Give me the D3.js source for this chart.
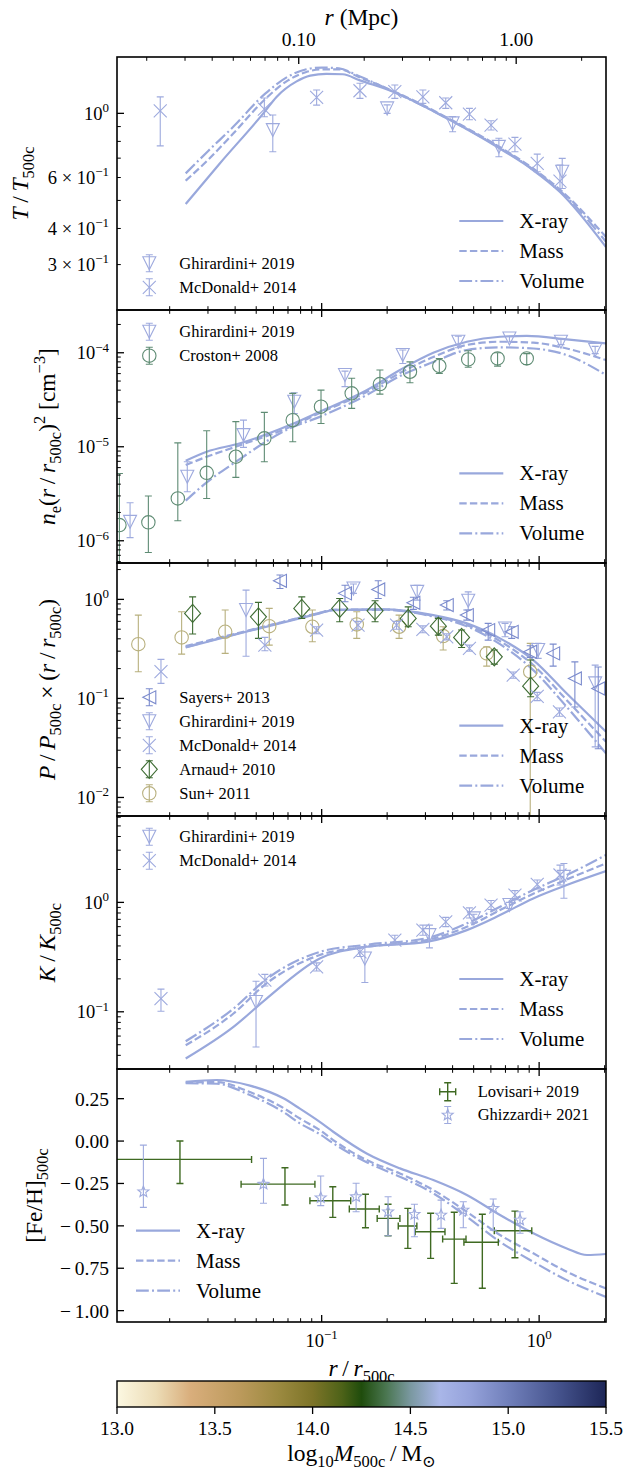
<!DOCTYPE html>
<html>
<head>
<meta charset="utf-8">
<script src="https://cdn.jsdelivr.net/npm/d3@7"></script>
<style>
  body { margin: 0; background: #fff; }
  svg { font-family: "Liberation Serif", "DejaVu Serif", serif; }
</style>
</head>
<body>
<div id="chart"></div>
<script>
// ---- data ----
const xDomain = [0.01145, 2.03];
const mpcPerR500 = 1.275;

// panel 1: temperature
const tXray = [[0.0237,0.486],[0.034,0.671],[0.0545,1.01],[0.062,1.14],[0.0767,1.29],[0.0886,1.35],[0.105,1.37],[0.125,1.365],[0.15,1.30],[0.213,1.188],[0.389,0.948],[0.64,0.766],[0.937,0.637],[1.247,0.535],[2.03,0.345]];
const tMass = [[0.0237,0.585],[0.03,0.69],[0.0393,0.853],[0.055,1.12],[0.07,1.3],[0.085,1.39],[0.1,1.42],[0.12,1.42],[0.15,1.33],[0.213,1.195],[0.389,0.955],[0.64,0.775],[0.937,0.645],[1.247,0.545],[2.03,0.374]];
const tVolume = [[0.0237,0.62],[0.03,0.74],[0.0393,0.9],[0.055,1.17],[0.07,1.34],[0.085,1.42],[0.1,1.44],[0.12,1.43],[0.15,1.34],[0.213,1.19],[0.389,0.95],[0.64,0.77],[0.937,0.64],[1.247,0.54],[2.03,0.36]];
const ghirardiniT = [[0.0596,0.875,0.737,0.987],[0.200,1.04,1.0,1.07],[0.40,0.923,0.864,0.974],[0.653,0.766,0.708,0.82],[1.277,0.628,0.55,0.699]];
const mcdonaldT = [[0.0181,1.02,0.772,1.14],[0.0545,1.035,0.973,1.13],[0.0948,1.136,1.068,1.204],[0.150,1.197,1.127,1.27],[0.217,1.188,1.127,1.253],[0.292,1.141,1.083,1.204],[0.372,1.088,1.04,1.13],[0.478,0.994,0.95,1.04],[0.601,0.911,0.876,0.943],[0.774,0.783,0.737,0.826],[0.98,0.671,0.628,0.723],[1.247,0.583,0.55,0.663]];

// panel 2: density
const nXray = [[0.0237,7.1e-6],[0.0296,8.85e-6],[0.0422,1.09e-5],[0.0714,1.70e-5],[0.098,2.36e-5],[0.161,4.0e-5],[0.229,6.55e-5],[0.326,1.0e-4],[0.465,1.31e-4],[0.661,1.48e-4],[0.877,1.51e-4],[1.34,1.39e-4],[2.03,1.26e-4]];
const nMass = [[0.0237,6.38e-6],[0.0296,7.83e-6],[0.0422,1.04e-5],[0.0714,1.62e-5],[0.098,2.29e-5],[0.161,3.82e-5],[0.229,6.08e-5],[0.326,9.0e-5],[0.465,1.21e-4],[0.661,1.31e-4],[0.94,1.28e-4],[1.34,1.11e-4],[2.03,8.36e-5]];
const nVolume = [[0.0237,2.67e-6],[0.0296,4.18e-6],[0.0393,6.65e-6],[0.0714,1.57e-5],[0.098,2.08e-5],[0.161,3.55e-5],[0.229,5.65e-5],[0.326,7.96e-5],[0.465,1.07e-4],[0.661,1.14e-4],[0.94,1.11e-4],[1.34,9.45e-5],[2.03,5.8e-5]];
const ghirardiniN = [[0.01315,1.59e-6,1.08e-6,2.54e-6],[0.0241,4.8e-6,3.32e-6,6.92e-6],[0.0437,1.33e-5,9.86e-6,1.92e-5],[0.0748,3.01e-5,2.26e-5,3.75e-5],[0.128,5.8e-5,4.36e-5,6.38e-5],[0.236,9.45e-5,7.7e-5,1.07e-4],[0.425,1.31e-4,1.13e-4,1.5e-4],[0.73,1.42e-4,1.3e-4,1.5e-4],[1.26,1.31e-4,1.22e-4,1.4e-4],[1.81,1.07e-4,9.8e-5,1.17e-4]];
const crostonN = [[0.01175,1.47e-6,4e-7,5.2e-6],[0.01596,1.57e-6,7.5e-7,2.99e-6],[0.0218,2.82e-6,1.63e-6,1.1e-5],[0.0296,5.28e-6,2.82e-6,1.48e-5],[0.0403,7.83e-6,4.72e-6,1.85e-5],[0.0545,1.23e-5,6.92e-6,2.32e-5],[0.0736,1.92e-5,1.13e-5,3.7e-5],[0.0993,2.67e-5,1.77e-5,4.0e-5],[0.1374,3.7e-5,2.56e-5,5.35e-5],[0.1853,4.64e-5,3.63e-5,6.55e-5],[0.2547,6.28e-5,4.8e-5,8.0e-5],[0.3475,7.23e-5,6.04e-5,8.7e-5],[0.472,8.5e-5,7.0e-5,1.05e-4],[0.644,8.7e-5,7.2e-5,1.0e-4],[0.877,8.7e-5,7.5e-5,9.8e-5]];

// panel 3: pressure
const pXray = [[0.0237,0.327],[0.0468,0.482],[0.098,0.722],[0.113,0.78],[0.192,0.793],[0.326,0.694],[0.465,0.573],[0.661,0.404],[0.94,0.244],[1.34,0.112],[2.03,0.046]];
const pMass = [[0.0237,0.337],[0.0468,0.49],[0.098,0.73],[0.113,0.785],[0.192,0.79],[0.326,0.68],[0.465,0.55],[0.661,0.379],[0.94,0.217],[1.34,0.096],[2.03,0.0365]];
const pVolume = [[0.0237,0.33],[0.0468,0.485],[0.098,0.73],[0.113,0.785],[0.192,0.785],[0.326,0.67],[0.465,0.535],[0.661,0.353],[0.94,0.193],[1.34,0.082],[2.03,0.0278]];
const sayersP = [[0.0643,1.54,1.29,1.76],[0.128,1.15,0.946,1.39],[0.182,1.26,1.02,1.54],[0.264,0.924,0.793,1.05],[0.376,0.876,0.78,0.968],[0.465,0.694,0.618,0.78],[0.583,0.49,0.388,0.573],[0.748,0.471,0.404,0.529],[0.91,0.296,0.26,0.34],[1.16,0.285,0.212,0.353],[1.46,0.159,0.082,0.234],[1.87,0.126,0.031,0.208]];
const ghirardiniP = [[0.0449,0.78,0.267,1.24],[0.14,1.29,1.15,1.43],[0.275,1.19,0.984,1.39],[0.472,0.968,0.78,1.19],[0.697,0.509,0.419,0.573],[0.99,0.308,0.254,0.36],[1.81,0.142,0.0324,0.217]];
const mcdonaldP = [[0.01824,0.186,0.142,0.248],[0.0548,0.345,0.303,0.413],[0.0948,0.49,0.45,0.53],[0.147,0.55,0.5,0.6],[0.221,0.55,0.5,0.6],[0.292,0.497,0.46,0.54],[0.376,0.419,0.39,0.45],[0.478,0.32,0.3,0.345],[0.76,0.172,0.16,0.185],[0.98,0.105,0.095,0.115],[1.24,0.073,0.066,0.08]];
const arnaudP = [[0.0255,0.722,0.447,1.06],[0.0512,0.667,0.404,0.933],[0.081,0.811,0.643,1.06],[0.121,0.811,0.594,1.02],[0.176,0.767,0.594,0.968],[0.25,0.643,0.529,0.841],[0.344,0.537,0.436,0.643],[0.44,0.413,0.327,0.49],[0.622,0.263,0.222,0.308],[0.914,0.133,0.104,0.244]];
const sunP = [[0.01435,0.353,0.186,0.694],[0.0227,0.413,0.28,0.75],[0.036,0.471,0.285,0.78],[0.0574,0.537,0.345,0.811],[0.0906,0.529,0.373,0.78],[0.145,0.559,0.404,0.75],[0.227,0.529,0.404,0.694],[0.362,0.426,0.308,0.529],[0.574,0.285,0.212,0.332],[0.91,0.186,0.003,0.36]];

// panel 4: entropy
const kXray = [[0.0237,0.0374],[0.0393,0.0728],[0.0558,0.132],[0.098,0.307],[0.161,0.393],[0.304,0.436],[0.465,0.558],[0.661,0.765],[0.94,1.088],[1.34,1.44],[2.03,1.93]];
const kMass = [[0.0237,0.0495],[0.0393,0.0965],[0.0558,0.182],[0.098,0.33],[0.161,0.393],[0.304,0.452],[0.465,0.598],[0.661,0.85],[0.94,1.2],[1.34,1.62],[2.03,2.27]];
const kVolume = [[0.0237,0.0538],[0.0393,0.107],[0.0558,0.199],[0.098,0.353],[0.161,0.41],[0.304,0.471],[0.465,0.643],[0.661,0.911],[0.94,1.3],[1.34,1.78],[2.03,2.71]];
const ghirardiniK = [[0.0499,0.123,0.0477,0.19],[0.158,0.307,0.185,0.393],[0.313,0.502,0.384,0.62],[0.501,0.714,0.65,0.78],[0.73,0.945,0.88,1.0],[1.3,1.71,1.09,2.27]];
const mcdonaldK = [[0.01824,0.132,0.101,0.161],[0.0548,0.195,0.172,0.22],[0.0948,0.257,0.236,0.28],[0.15,0.353,0.32,0.39],[0.217,0.452,0.41,0.5],[0.292,0.558,0.5,0.62],[0.372,0.665,0.6,0.73],[0.478,0.803,0.72,0.89],[0.601,0.945,0.86,1.04],[0.774,1.166,1.06,1.28],[0.98,1.46,1.33,1.6],[1.247,1.78,1.44,2.19]];

// panel 5: metallicity
const feXray = [[0.0237,0.349],[0.0329,0.36],[0.0468,0.327],[0.0667,0.252],[0.0794,0.191],[0.098,0.113],[0.113,0.055],[0.161,-0.073],[0.229,-0.161],[0.326,-0.23],[0.465,-0.318],[0.661,-0.436],[0.94,-0.544],[1.34,-0.633],[1.66,-0.672],[2.03,-0.666]];
const feMass = [[0.0237,0.345],[0.0329,0.348],[0.0468,0.289],[0.0667,0.195],[0.0794,0.133],[0.098,0.065],[0.113,0.006],[0.161,-0.112],[0.229,-0.191],[0.326,-0.289],[0.465,-0.417],[0.661,-0.554],[0.94,-0.662],[1.34,-0.771],[2.03,-0.869]];
const feVolume = [[0.0237,0.341],[0.0329,0.338],[0.0468,0.271],[0.0667,0.171],[0.0794,0.104],[0.098,0.041],[0.113,-0.013],[0.161,-0.125],[0.229,-0.21],[0.326,-0.308],[0.465,-0.446],[0.661,-0.594],[0.94,-0.712],[1.34,-0.82],[2.03,-0.919]];
// [r, rlo, rhi, fe, felo, fehi]
const lovisariFe = [[0.0223,0.005,0.0476,-0.108,-0.25,0.0],[0.0678,0.0426,0.0931,-0.254,-0.377,-0.157],[0.1125,0.0883,0.136,-0.352,-0.45,-0.269],[0.159,0.134,0.184,-0.401,-0.511,-0.314],[0.202,0.18,0.229,-0.456,-0.558,-0.373],[0.249,0.225,0.274,-0.501,-0.633,-0.397],[0.317,0.269,0.369,-0.535,-0.692,-0.426],[0.407,0.36,0.461,-0.578,-0.839,-0.42],[0.548,0.451,0.649,-0.597,-0.868,-0.432],[0.774,0.622,0.925,-0.529,-0.688,-0.413]];
const ghizzardiFe = [[0.01514,-0.299,-0.391,-0.024],[0.054,-0.254,-0.367,-0.102],[0.099,-0.334,-0.381,-0.206],[0.144,-0.328,-0.417,-0.249],[0.202,-0.417,-0.558,-0.328],[0.267,-0.432,-0.564,-0.373],[0.354,-0.436,-0.515,-0.348],[0.448,-0.407,-0.511,-0.358],[0.615,-0.397,-0.525,-0.342],[0.817,-0.466,-0.544,-0.417]];

const massTicks = [13.0, 13.5, 14.0, 14.5, 15.0, 15.5];
const massDomain = [13.0, 15.5];

// ---- look ----
const W = 626, H = 1478;
const L = 117, R = 606;
const cLine = "#99a8dc", cBlue = "#9eaade", cSayers = "#7b8bcd",
      cCroston = "#5f8c74", cArnaud = "#3e6c33", cSun = "#b8b07e", cLov = "#3f6a22";
const numFont = 19.5, mathFont = 18.5, legFont = 16.5, lineLegFont = 21, labFont = 23.5;
const sp = "\u2009";

const svg = d3.select("#chart").append("svg").attr("width", W).attr("height", H);
svg.append("rect").attr("width", W).attr("height", H).attr("fill", "#fff");
const defs = svg.append("defs");

const x = d3.scaleLog().domain(xDomain).range([L, R]);
const xMpc = d3.scaleLog().domain(xDomain.map(d => d * mpcPerR500)).range([L, R]);

// write text made of pieces: [text, style] with style among i, sub, sup, isub
function rich(t, parts, size) {
  let shift = 0;
  parts.forEach(([txt, st]) => {
    st = st || "";
    let target = 0, fs = size;
    if (st.includes("sub")) { target = size * 0.25; fs = size * 0.7; }
    if (st.includes("sup")) { target = -size * 0.42; fs = size * 0.7; }
    const s = t.append("tspan").text(txt).attr("font-size", fs).attr("dy", target - shift);
    if (st.replace("sub", "").replace("sup", "").includes("i")) s.attr("font-style", "italic");
    shift = target;
  });
  return t;
}

function marker(g, type, cx, cy, color) {
  const s = 6.5;
  let p;
  if (type === "tri_down") p = `M${cx - s},${cy - s}L${cx + s},${cy - s}L${cx},${cy + s}Z`;
  else if (type === "tri_left") p = `M${cx + s},${cy - s}L${cx + s},${cy + s}L${cx - s},${cy}Z`;
  else if (type === "x") p = `M${cx - s},${cy - s}L${cx + s},${cy + s}M${cx - s},${cy + s}L${cx + s},${cy - s}`;
  else if (type === "diamond") p = `M${cx},${cy - 9}L${cx + 8},${cy}L${cx},${cy + 9}L${cx - 8},${cy}Z`;
  else if (type === "star") {
    const pts = d3.range(10).map(i => {
      const a = -Math.PI / 2 + i * Math.PI / 5, r = i % 2 ? 2.5 : 5.8;
      return [cx + r * Math.cos(a), cy + r * Math.sin(a)];
    });
    p = "M" + pts.join("L") + "Z";
  }
  if (type === "circle") {
    g.append("circle").attr("cx", cx).attr("cy", cy).attr("r", 6.7)
      .attr("fill", "none").attr("stroke", color).attr("stroke-width", 1.1);
  } else {
    g.append("path").attr("d", p).attr("fill", "none").attr("stroke", color).attr("stroke-width", 1.1);
  }
}

function errV(g, cx, y1, y2, color, w) {
  g.append("path").attr("d", `M${cx},${y1}L${cx},${y2}M${cx - 3.5},${y1}L${cx + 3.5},${y1}M${cx - 3.5},${y2}L${cx + 3.5},${y2}`)
    .attr("stroke", color).attr("stroke-width", w || 1.1).attr("fill", "none");
}
function errH(g, cy, x1, x2, color, w) {
  g.append("path").attr("d", `M${x1},${cy}L${x2},${cy}M${x1},${cy - 3.5}L${x1},${cy + 3.5}M${x2},${cy - 3.5}L${x2},${cy + 3.5}`)
    .attr("stroke", color).attr("stroke-width", w || 1.1).attr("fill", "none");
}

function logTicks(domain) {
  const out = [];
  for (let e = -8; e <= 2; e++) for (let m = 1; m <= 9; m++) {
    const v = m * Math.pow(10, e);
    if (v >= domain[0] * 0.9999 && v <= domain[1] * 1.0001) out.push({ v, major: m === 1 });
  }
  return out;
}

const lineStyles = [
  { name: "X-ray", dash: null },
  { name: "Mass", dash: "7.4,3.2" },
  { name: "Volume", dash: "12.8,3.2,2,3.2" }
];

const pow10 = e => [["10"], [e, "sup"]];
const panels = [
  { top: 57, log: true, domain: [0.209, 1.566], lines: [tXray, tMass, tVolume],
    sets: [{ d: ghirardiniT, m: "tri_down", c: cBlue, label: "Ghirardini+ 2019" },
           { d: mcdonaldT, m: "x", c: cBlue, label: "McDonald+ 2014" }],
    legendY: 263.3, lineLegY: 221, ylab: { x: 20, parts: [["T", "i"], [sp + "/" + sp], ["T", "i"], ["500c", "sub"]] },
    yLabels: [[1, pow10("0")], [0.6, [["6 × 10"], ["\u22121", "sup"]]], [0.4, [["4 × 10"], ["\u22121", "sup"]]], [0.3, [["3 × 10"], ["\u22121", "sup"]]]] },
  { top: 310, log: true, domain: [5.8e-7, 2.85e-4], lines: [nXray, nMass, nVolume],
    sets: [{ d: ghirardiniN, m: "tri_down", c: cBlue, label: "Ghirardini+ 2019" },
           { d: crostonN, m: "circle", c: cCroston, label: "Croston+ 2008" }],
    legendY: 331.7, lineLegY: 473.3,
    ylab: { x: 47, parts: [["n", "i"], ["e", "sub"], ["("], ["r", "i"], [sp + "/" + sp], ["r", "i"], ["500c", "sub"], [")"], ["2", "sup"], [" [cm"], ["\u22123", "sup"], ["]"]] },
    yLabels: [[1e-4, pow10("\u22124")], [1e-5, pow10("\u22125")], [1e-6, pow10("\u22126")]] },
  { top: 563, log: true, domain: [0.0065, 2.33], lines: [pXray, pMass, pVolume],
    sets: [{ d: sunP, m: "circle", c: cSun, label: "Sun+ 2011" },
           { d: arnaudP, m: "diamond", c: cArnaud, label: "Arnaud+ 2010" },
           { d: mcdonaldP, m: "x", c: cBlue, label: "McDonald+ 2014" },
           { d: ghirardiniP, m: "tri_down", c: cBlue, label: "Ghirardini+ 2019" },
           { d: sayersP, m: "tri_left", c: cSayers, label: "Sayers+ 2013" }],
    legendY: 697.3, legendOrder: [4, 3, 2, 1, 0], lineLegY: 725.7,
    ylab: { x: 47, parts: [["P", "i"], [sp + "/" + sp], ["P", "i"], ["500c", "sub"], [sp + "×" + sp + "("], ["r", "i"], [sp + "/" + sp], ["r", "i"], ["500c", "sub"], [")"]] },
    yLabels: [[1, pow10("0")], [0.1, pow10("\u22121")], [0.01, pow10("\u22122")]] },
  { top: 816, log: true, domain: [0.030, 6.16], lines: [kXray, kMass, kVolume],
    sets: [{ d: ghirardiniK, m: "tri_down", c: cBlue, label: "Ghirardini+ 2019" },
           { d: mcdonaldK, m: "x", c: cBlue, label: "McDonald+ 2014" }],
    legendY: 836.7, lineLegY: 979,
    ylab: { x: 47, parts: [["K", "i"], [sp + "/" + sp], ["K", "i"], ["500c", "sub"]] },
    yLabels: [[1, pow10("0")], [0.1, pow10("\u22121")]] },
  { top: 1069, log: false, domain: [-1.067, 0.425], lines: [feXray, feMass, feVolume],
    sets: [], legendY: 1091.7, lineLegY: 1230.7, lineLegX: 136,
    ylab: { x: 34, parts: [["[Fe/H]"], ["500c", "sub"]] },
    yLabels: [0.25, 0, -0.25, -0.5, -0.75, -1].map(v => [v, [[(v < 0 ? "\u2212" + sp : "") + Math.abs(v).toFixed(2)]]]) }
];
const PH = 253;

panels.forEach((p, i) => {
  const top = p.top, bot = top + PH;
  const y = (p.log ? d3.scaleLog() : d3.scaleLinear()).domain(p.domain).range([bot, top]);
  const clipId = "clip" + i;
  defs.append("clipPath").attr("id", clipId).append("rect").attr("x", L).attr("y", top).attr("width", R - L).attr("height", PH);
  const g = svg.append("g").attr("clip-path", `url(#${clipId})`);

  // model lines
  const line = d3.line().x(d => x(d[0])).y(d => y(d[1])).curve(d3.curveMonotoneX);
  p.lines.forEach((arr, k) => {
    g.append("path").datum(arr).attr("d", line).attr("fill", "none").attr("stroke", cLine)
      .attr("stroke-width", 2.2).attr("stroke-dasharray", lineStyles[k].dash);
  });

  // observations
  p.sets.forEach(s => {
    s.d.forEach(d => {
      errV(g, x(d[0]), y(Math.max(d[2], p.domain[0] * 0.5)), y(d[3]), s.c);
      marker(g, s.m, x(d[0]), y(d[1]), s.c);
    });
  });

  if (i === 4) {
    lovisariFe.forEach(d => {
      errH(g, y(d[3]), x(d[1]), x(d[2]), cLov, 1.4);
      errV(g, x(d[0]), y(d[4]), y(d[5]), cLov, 1.4);
    });
    ghizzardiFe.forEach(d => {
      errV(g, x(d[0]), y(d[2]), y(d[3]), cBlue);
      marker(g, "star", x(d[0]), y(d[1]), cBlue);
    });
  }

  // legends
  const lg = svg.append("g");
  if (i < 4) {
    const order = p.legendOrder || p.sets.map((_, k) => k);
    order.forEach((k, j) => {
      const s = p.sets[k], ly = p.legendY + j * 24;
      errV(lg, 149.3, ly - 8.5, ly + 8.5, s.c);
      marker(lg, s.m, 149.3, ly, s.c);
      lg.append("text").attr("x", 179.3).attr("y", ly + legFont * 0.33).attr("font-size", legFont).text(s.label);
    });
  } else {
    const items = [["Lovisari+ 2019", "lov"], ["Ghizzardi+ 2021", "star"]];
    items.forEach(([lab, t], j) => {
      const ly = p.legendY + j * 23.3, lx = 447.7;
      if (t === "lov") { errH(lg, ly, lx - 8, lx + 8, cLov, 1.4); errV(lg, lx, ly - 9, ly + 9, cLov, 1.4); }
      else { errV(lg, lx, ly - 8.5, ly + 8.5, cBlue); marker(lg, "star", lx, ly, cBlue); }
      lg.append("text").attr("x", 477.7).attr("y", ly + legFont * 0.33).attr("font-size", legFont).text(lab);
    });
  }
  const llx = p.lineLegX || 459.3;
  lineStyles.forEach((st, k) => {
    const ly = p.lineLegY + k * 30;
    lg.append("line").attr("x1", llx).attr("x2", llx + 44).attr("y1", ly).attr("y2", ly)
      .attr("stroke", cLine).attr("stroke-width", 2.2).attr("stroke-dasharray", st.dash);
    lg.append("text").attr("x", llx + 60).attr("y", ly + lineLegFont * 0.33).attr("font-size", lineLegFont).text(st.name);
  });

  // axes frame and ticks
  const ax = svg.append("g").attr("stroke", "#000").attr("fill", "none");
  ax.append("rect").attr("x", L).attr("y", top).attr("width", R - L).attr("height", PH).attr("stroke-width", 1.6);
  logTicks(xDomain).forEach(t => {
    const len = t.major ? 7 : 3.8, px = x(t.v);
    ax.append("line").attr("x1", px).attr("x2", px).attr("y1", bot).attr("y2", bot - len).attr("stroke-width", t.major ? 1.3 : 1);
    if (i > 0) ax.append("line").attr("x1", px).attr("x2", px).attr("y1", top).attr("y2", top + len).attr("stroke-width", t.major ? 1.3 : 1);
  });
  if (i === 0) {
    logTicks(xMpc.domain()).forEach(t => {
      const len = t.major ? 7 : 3.8, px = xMpc(t.v);
      ax.append("line").attr("x1", px).attr("x2", px).attr("y1", top).attr("y2", top + len).attr("stroke-width", t.major ? 1.3 : 1);
    });
    [0.1, 1].forEach(v => svg.append("text").attr("x", xMpc(v)).attr("y", 46).attr("text-anchor", "middle")
      .attr("font-size", numFont).text(v.toFixed(2)));
    rich(svg.append("text").attr("x", (L + R) / 2).attr("y", 25).attr("text-anchor", "middle"), [["r", "i"], [" (Mpc)"]], labFont);
  }
  const yt = p.log ? logTicks(p.domain) : p.yLabels.map(d => ({ v: d[0], major: true }));
  yt.forEach(t => {
    const len = t.major ? 7 : 3.8, py = y(t.v);
    ax.append("line").attr("x1", L).attr("x2", L + len).attr("y1", py).attr("y2", py).attr("stroke-width", t.major ? 1.3 : 1);
  });
  const yf = p.log ? mathFont : numFont;
  p.yLabels.forEach(([v, parts]) => {
    rich(svg.append("text").attr("x", 109).attr("y", y(v) + yf * 0.36).attr("text-anchor", "end"), parts, yf);
  });
  const cy = top + PH / 2;
  rich(svg.append("text").attr("transform", `translate(${p.ylab.x + 8},${cy}) rotate(-90)`).attr("text-anchor", "middle"), p.ylab.parts, labFont);

  if (i === 4) {
    [[0.1, "\u22121"], [1, "0"]].forEach(([v, e]) => {
      rich(svg.append("text").attr("x", x(v)).attr("y", bot + 25).attr("text-anchor", "middle"), pow10(e), mathFont);
    });
    rich(svg.append("text").attr("x", (L + R) / 2).attr("y", 1376).attr("text-anchor", "middle"),
      [["r", "i"], [sp + "/" + sp], ["r", "i"], ["500c", "sub"]], labFont);
  }
});

// ---- colour bar ----
const cbTop = 1381, cbH = 26;
const grad = defs.append("linearGradient").attr("id", "cbGrad");
[[0, "#fcf8e2"], [0.08, "#ecdcb6"], [0.15, "#d9ae7c"], [0.25, "#bc9a5c"], [0.33, "#9c8a40"], [0.40, "#7d7428"],
 [0.46, "#4d6218"], [0.50, "#1f4c0c"], [0.55, "#4a7650"], [0.60, "#7a98a0"], [0.66, "#a9b6e8"], [0.72, "#96a3db"],
 [0.80, "#7180bb"], [0.90, "#46548e"], [1, "#1d2657"]].forEach(([o, c]) => grad.append("stop").attr("offset", o).attr("stop-color", c));
svg.append("rect").attr("x", L).attr("y", cbTop).attr("width", R - L).attr("height", cbH).attr("fill", "url(#cbGrad)")
  .attr("stroke", "#000").attr("stroke-width", 1.4);
const cbx = d3.scaleLinear().domain(massDomain).range([L, R]);
massTicks.forEach(v => {
  svg.append("line").attr("x1", cbx(v)).attr("x2", cbx(v)).attr("y1", cbTop + cbH).attr("y2", cbTop + cbH + 7)
    .attr("stroke", "#000").attr("stroke-width", 1.3);
  svg.append("text").attr("x", cbx(v)).attr("y", 1435).attr("text-anchor", "middle").attr("font-size", numFont).text(v.toFixed(1));
});
rich(svg.append("text").attr("x", (L + R) / 2).attr("y", 1461).attr("text-anchor", "middle"),
  [["log"], ["10", "sub"], ["M", "i"], ["500c", "sub"], [sp + "/" + sp + "M"], ["\u2299", "sub"]], labFont);
</script>
</body>
</html>
